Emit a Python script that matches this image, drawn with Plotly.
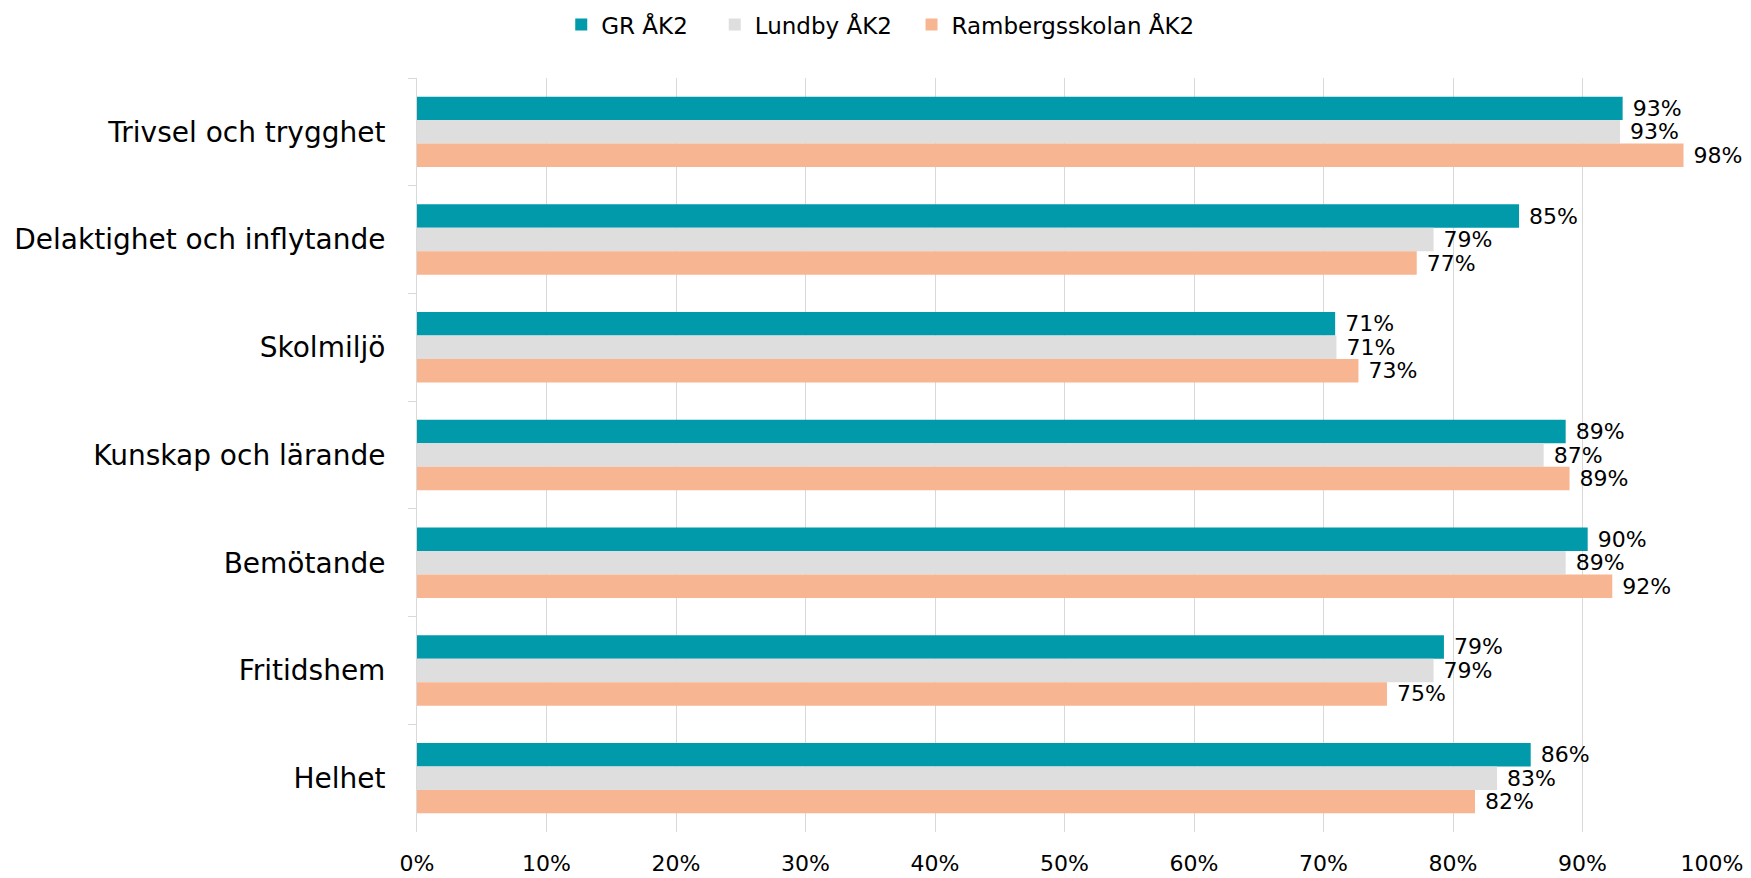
import plotly.graph_objects as go

categories = ["Trivsel och trygghet", "Delaktighet och inflytande", "Skolmiljö",
              "Kunskap och lärande", "Bemötande", "Fritidshem", "Helhet"]
series_names = ["GR ÅK2", "Lundby ÅK2", "Rambergsskolan ÅK2"]
gr_values = [93.1, 85.1, 70.9, 88.7, 90.4, 79.3, 86.0]
lundby_values = [92.9, 78.5, 71.0, 87.0, 88.7, 78.5, 83.4]
ramberg_values = [97.8, 77.2, 72.7, 89.0, 92.3, 74.9, 81.7]
tick_values = [0, 10, 20, 30, 40, 50, 60, 70, 80, 90, 100]
tick_labels = ["0%", "10%", "20%", "30%", "40%", "50%", "60%", "70%", "80%", "90%", "100%"]

colors = ["#009AAB", "#DEDEDE", "#F8B592"]
FONT = "DejaVu Sans"
pads = ["\u00a0\u00a0\u00a0", "\u00a0\u00a0", ""]

fig = go.Figure()
for name, pad, vals, col in zip(series_names, pads, [gr_values, lundby_values, ramberg_values], colors):
    fig.add_trace(go.Bar(
        y=categories, x=vals, name=name + pad, orientation="h",
        marker=dict(color=col, line=dict(width=0)),
        texttemplate="\u00a0%{x:.0f}%", textposition="outside",
        textfont=dict(family=FONT, size=22, color="#000000"),
        constraintext="none", cliponaxis=False,
    ))

fig.update_layout(
    width=1751, height=878,
    barmode="group", bargap=0.346, bargroupgap=0,
    plot_bgcolor="white", paper_bgcolor="white",
    margin=dict(l=417, r=39, t=78, b=46, autoexpand=False),
    font=dict(family=FONT, color="#000000"),
    legend=dict(orientation="h", xref="container", yref="container",
                x=0.503, xanchor="center", y=0.972, yanchor="middle",
                font=dict(family=FONT, size=23, color="#000000"),
                traceorder="normal"),
    xaxis=dict(range=[0, 100], tickvals=tick_values, ticktext=tick_labels,
               showgrid=True, gridcolor="#D9D9D9", gridwidth=1,
               zeroline=False, showline=False, ticks="",
               tickfont=dict(family=FONT, size=22, color="#000000"),
               ticklabelstandoff=16, automargin=False),
    yaxis=dict(autorange="reversed", showline=True, linecolor="#D9D9D9", linewidth=1,
               ticks="outside", tickson="boundaries", ticklen=8, tickcolor="#D9D9D9",
               tickfont=dict(family=FONT, size=28, color="#000000"),
               ticklabelstandoff=25, automargin=False, showgrid=False),
)

fig.write_html("out.html", config={"displayModeBar": False},
               post_script="document.body.style.margin='0';")
